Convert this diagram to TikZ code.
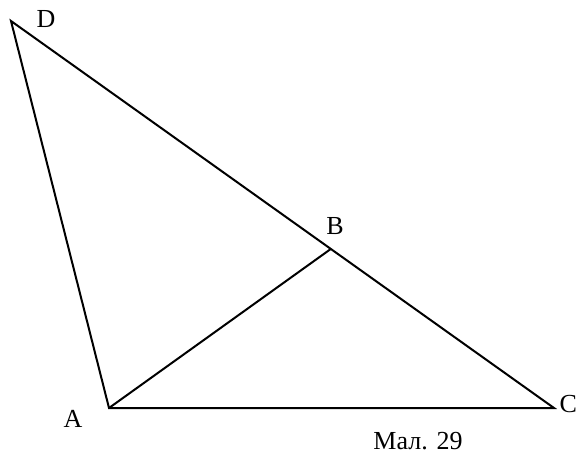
\documentclass[tikz,border=0pt]{standalone}
\usepackage{fontspec}
\setmainfont{Liberation Serif}
\usetikzlibrary{calc}
\begin{document}
\begin{tikzpicture}[x=1pt,y=-1pt,line width=2pt,
  lbl/.style={font=\fontsize{26}{30}\selectfont,inner sep=0pt}]
\useasboundingbox (0,0) rectangle (579,461);
\coordinate (D) at (11,21);
\coordinate (A) at (109,408);
\coordinate (C) at (554,408);
\coordinate (B) at ($(D)!0.589!(C)$);
\draw[line join=miter] (D) -- (A) -- (C) -- cycle;
\draw (A) -- (B);
\node[lbl] (lD) at (46,19) {D};
\node[lbl] (lB) at (335,226) {B};
\node[lbl] (lA) at (73,419) {A};
\node[lbl,anchor=east] (lC) at (578,404) {C};
\node[lbl] (cap) at (418,441) {Мал. 29};
\end{tikzpicture}
\end{document}
